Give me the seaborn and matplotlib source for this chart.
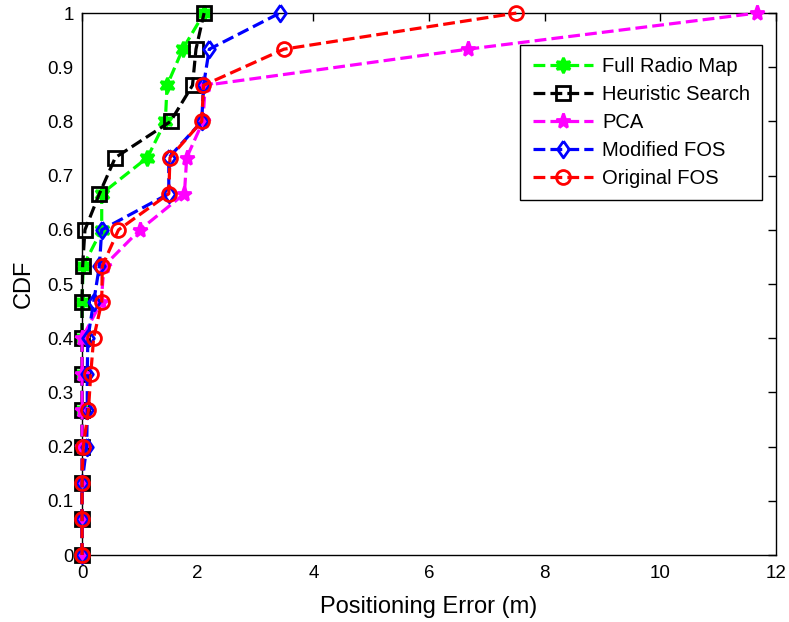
import numpy as np
import pandas as pd
import matplotlib
matplotlib.use("Agg")
import matplotlib.pyplot as plt
import seaborn as sns

cdf = [0, 1/15, 2/15, 3/15, 4/15, 5/15, 6/15, 7/15, 8/15, 9/15, 10/15, 11/15, 12/15, 13/15, 14/15, 1.0]

full_radio_map = [0, 0, 0, 0, 0, 0, 0, 0, 0.02, 0.34, 0.34, 1.13, 1.44, 1.47, 1.74, 2.11]
heuristic_search = [0, 0, 0, 0, 0, 0, 0, 0, 0.01, 0.05, 0.30, 0.575, 1.53, 1.91, 1.97, 2.11]
pca = [0, 0, 0, 0, 0, 0, 0, 0.33, 0.38, 1.0, 1.77, 1.81, 2.09, 2.13, 6.67, 11.67]
modified_fos = [0, 0, 0, 0.08, 0.09, 0.09, 0.10, 0.2, 0.3, 0.34, 1.5, 1.5, 2.07, 2.1, 2.2, 3.42]
original_fos = [0, 0, 0, 0.02, 0.11, 0.15, 0.2, 0.34, 0.35, 0.63, 1.5, 1.52, 2.07, 2.1, 3.49, 7.51]

labels = ["Full Radio Map", "Heuristic Search", "PCA", "Modified FOS", "Original FOS"]
xticks = [0, 2, 4, 6, 8, 10, 12]
yticks = [0, 0.1, 0.2, 0.3, 0.4, 0.5, 0.6, 0.7, 0.8, 0.9, 1]
ytick_labels = ["0", "0.1", "0.2", "0.3", "0.4", "0.5", "0.6", "0.7", "0.8", "0.9", "1"]

sns.set_style("white")
plt.rcParams["font.family"] = ["Liberation Sans", "DejaVu Sans"]
plt.rcParams["text.color"] = "black"
plt.rcParams["axes.labelcolor"] = "black"

fig = plt.figure(figsize=(7.89, 6.22), dpi=100)
ax = fig.add_axes([0.104, 0.1077, 0.8795, 0.8713])

diamond = [(0, 1), (0.7, 0), (0, -1), (-0.7, 0), (0, 1)]
series = [full_radio_map, heuristic_search, pca, modified_fos, original_fos]
colors = ["#00ff00", "#000000", "#ff00ff", "#0000ff", "#ff0000"]
markers = [(6, 1, 0), "s", "*", diamond, "o"]
msizes = [11, 10, 11, 12, 10]
fills = ["#00ff00", "none", "#ff00ff", "none", "none"]

for vals, lab, c, m, ms, fc in zip(series, labels, colors, markers, msizes, fills):
    sns.lineplot(x=vals, y=cdf, ax=ax, estimator=None, sort=False, label=lab,
                 color=c, linestyle="--", linewidth=2.3, marker=m, markersize=ms,
                 markerfacecolor=fc, markeredgecolor=c, markeredgewidth=2,
                 dashes=False, clip_on=False, zorder=3)
    ax.lines[-1].set_linestyle("--")

ax.set_xlim(0, 12)
ax.set_ylim(0, 1)
ax.set_xticks(xticks)
ax.set_xticklabels([str(t) for t in xticks])
ax.set_yticks(yticks)
ax.set_yticklabels(ytick_labels)
ax.tick_params(direction="in", length=6, width=1, top=True, right=True,
               labelsize=13.5, colors="black", pad=6)
ax.tick_params(axis="x", pad=7)
for s in ax.spines.values():
    s.set_visible(True)
    s.set_color("black")
    s.set_linewidth(1)
    s.set_zorder(1)
ax.set_xlabel("Positioning Error (m)", fontsize=17, labelpad=10, color="black")
ax.set_ylabel("CDF", fontsize=17, labelpad=9, color="black")

leg = ax.legend(loc="upper right", bbox_to_anchor=(0.98, 0.941), borderaxespad=0,
                fontsize=14.5, frameon=True, fancybox=False, framealpha=1,
                edgecolor="black", handlelength=3.0, labelspacing=0.45,
                borderpad=0.6, handletextpad=0.45)
leg.get_frame().set_linewidth(1)
leg.set_zorder(5)

fig.savefig("out.png", dpi=100)
